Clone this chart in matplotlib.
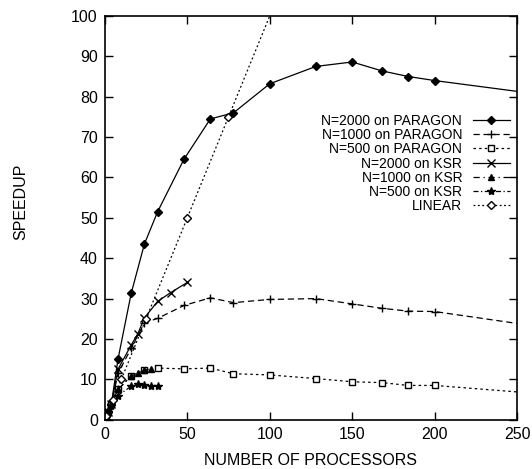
import matplotlib
matplotlib.use("Agg")
import matplotlib.pyplot as plt

plt.rcParams['font.family'] = ['Liberation Sans', 'DejaVu Sans']

# processor counts and speedups
par_x = [1, 2, 4, 8, 16, 24, 32, 48, 64, 78, 100, 128, 150, 168, 184, 200, 256]
par_2000 = [1, 2, 4, 15, 31.3, 43.5, 51.5, 64.5, 74.5, 76, 83.2, 87.5, 88.6, 86.4, 85, 84, 81]
par_1000 = [1, 2, 3.8, 11.5, 17.7, 24, 25.1, 28.3, 30.2, 29, 29.8, 30, 28.7, 27.6, 26.9, 26.8, 23.5]
par_500 = [1, 2, 3.8, 7.5, 10.9, 12.2, 12.8, 12.6, 12.8, 11.4, 11.1, 10.2, 9.4, 9.2, 8.5, 8.5, 6.7]

ksr2000_x = [1, 2, 4, 8, 16, 20, 24, 32, 40, 50]
ksr2000 = [1, 2, 3.9, 12.5, 18.5, 21.3, 25.2, 29.3, 31.5, 34]
ksr1000_x = [1, 2, 4, 8, 16, 20, 24, 28]
ksr1000 = [1, 2, 3.8, 7.5, 10.8, 11.5, 12.3, 12.6]
ksr500_x = [1, 2, 4, 8, 16, 20, 24, 28, 32]
ksr500 = [1, 1.9, 3.5, 6, 8.3, 8.8, 8.6, 8.3, 8.3]

lin_x = [1, 5, 10, 25, 50, 75, 150]

fig, ax = plt.subplots(figsize=(5.32, 4.69), dpi=100)
fig.subplots_adjust(left=0.197, right=0.972, bottom=0.105, top=0.966)

lw = 0.9
ax.plot(par_x, par_2000, '-', color='k', lw=lw, marker='D', ms=4, mfc='k',
        label='N=2000 on PARAGON')
ax.plot(par_x, par_1000, color='k', lw=lw, ls=(0, (5, 3)), marker='+', ms=6,
        label='N=1000 on PARAGON')
ax.plot(par_x, par_500, color='k', lw=lw, ls=(0, (2, 2.5)), marker='s', ms=5, mfc='white',
        label='N=500 on PARAGON')
ax.plot(ksr2000_x, ksr2000, '-', color='k', lw=lw, marker='x', ms=6,
        label='N=2000 on KSR')
ax.plot(ksr1000_x, ksr1000, color='k', lw=lw, ls=(0, (5, 3, 1, 3)), marker='^', ms=4, mfc='k',
        label='N=1000 on KSR')
ax.plot(ksr500_x, ksr500, color='k', lw=lw, ls=(0, (4, 2, 1, 2)), marker='*', ms=6, mfc='k',
        label='N=500 on KSR')
ax.plot(lin_x, lin_x, color='k', lw=lw, ls=(0, (1.5, 2)), marker='D', ms=4, mfc='white',
        label='LINEAR')

ax.set_xlim(0, 250)
ax.set_ylim(0, 100)
ax.set_xticks(range(0, 251, 50))
ax.set_yticks(range(0, 101, 10))
ax.tick_params(direction='in', length=6, width=1, top=True, right=True, labelsize=11.5, pad=5)
for s in ax.spines.values():
    s.set_linewidth(1.2)

ax.set_xlabel('NUMBER OF PROCESSORS', fontsize=11.5)
ax.set_ylabel('SPEEDUP', fontsize=11.5)
ax.xaxis.set_label_coords(0.5, -0.082)
ax.yaxis.set_label_coords(-0.185, 0.54)

ax.legend(loc='upper right', bbox_to_anchor=(0.983, 0.758), frameon=False,
          markerfirst=False, fontsize=10, labelspacing=0.02, handlelength=2.7,
          handletextpad=0.75, borderpad=0, borderaxespad=0)

plt.savefig('out.png', dpi=100)
